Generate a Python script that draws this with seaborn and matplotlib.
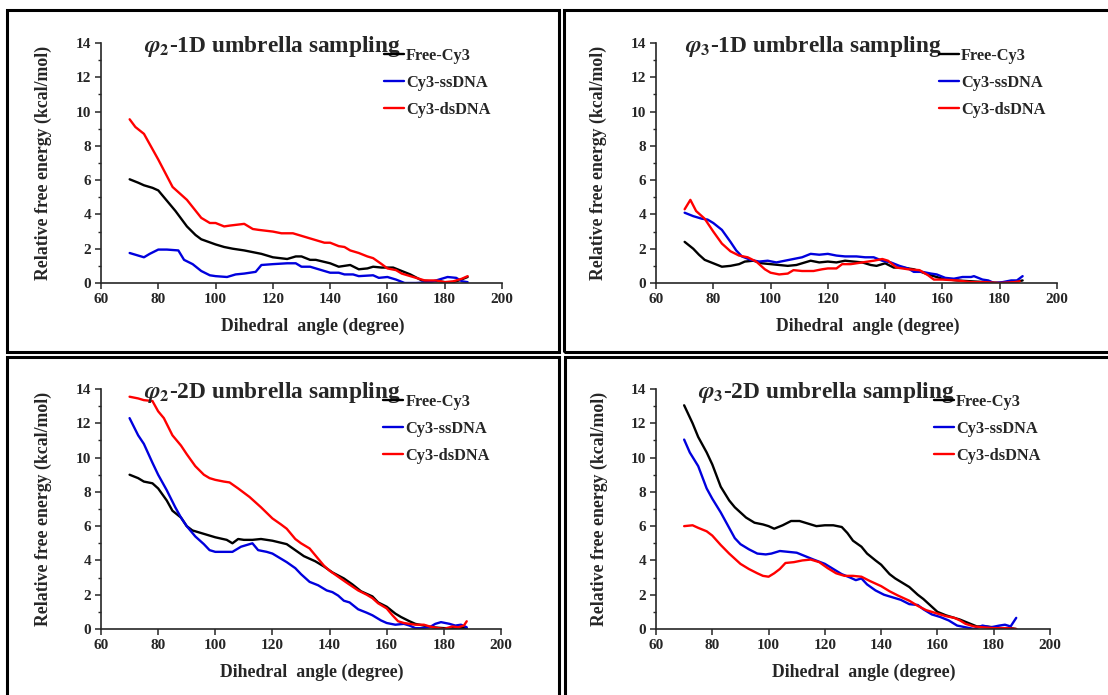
import numpy as np
import pandas as pd
import seaborn as sns
import matplotlib
matplotlib.use("Agg")
import matplotlib.pyplot as plt
from matplotlib.patches import Rectangle
from matplotlib.ticker import MultipleLocator

# ---------------- data ----------------
series_names = ["Free-Cy3", "Cy3-ssDNA", "Cy3-dsDNA"]
x_ticks = [60, 80, 100, 120, 140, 160, 180, 200]
y_ticks = [0, 2, 4, 6, 8, 10, 12, 14]

# phi2 - 1D umbrella sampling
p21_free_x = [70, 73, 75, 78, 80, 83, 86, 90, 93, 95, 100, 103, 106, 110, 113, 116, 120, 125, 128, 130, 133, 135, 140, 143, 145, 147, 150, 153, 155, 158, 162, 165, 168, 172, 175, 178, 182, 185, 188]
p21_free_y = [6.05, 5.85, 5.7, 5.55, 5.4, 4.8, 4.2, 3.3, 2.8, 2.55, 2.25, 2.1, 2.0, 1.9, 1.8, 1.7, 1.5, 1.4, 1.55, 1.55, 1.35, 1.35, 1.15, 0.95, 1.0, 1.05, 0.8, 0.85, 0.95, 0.9, 0.9, 0.7, 0.5, 0.15, 0.1, 0.1, 0.0, 0.15, 0.35]
p21_ss_x = [70, 73, 75, 77, 80, 83, 87, 89, 92, 95, 98, 100, 104, 107, 110, 114, 116, 120, 125, 128, 130, 133, 136, 140, 143, 145, 148, 150, 155, 157, 160, 163, 166, 170, 175, 178, 181, 184, 186, 188]
p21_ss_y = [1.75, 1.6, 1.5, 1.7, 1.95, 1.95, 1.9, 1.35, 1.1, 0.7, 0.45, 0.4, 0.35, 0.5, 0.55, 0.65, 1.05, 1.1, 1.15, 1.15, 0.95, 0.95, 0.8, 0.6, 0.6, 0.5, 0.5, 0.4, 0.45, 0.3, 0.35, 0.2, 0.0, 0.0, 0.05, 0.2, 0.35, 0.3, 0.1, 0.05]
p21_ds_x = [70, 72, 75, 80, 85, 90, 95, 98, 100, 103, 105, 110, 113, 115, 120, 123, 127, 130, 135, 138, 140, 143, 145, 147, 150, 153, 155, 158, 160, 163, 165, 170, 173, 177, 180, 183, 186, 188]
p21_ds_y = [9.55, 9.1, 8.7, 7.2, 5.6, 4.85, 3.8, 3.5, 3.5, 3.3, 3.35, 3.45, 3.15, 3.1, 3.0, 2.9, 2.9, 2.75, 2.5, 2.35, 2.35, 2.15, 2.1, 1.9, 1.75, 1.55, 1.45, 1.1, 0.85, 0.75, 0.55, 0.3, 0.15, 0.15, 0.05, 0.1, 0.25, 0.4]

# phi3 - 1D umbrella sampling
p31_free_x = [70, 73, 75, 77, 80, 83, 86, 89, 91, 94, 97, 100, 103, 106, 109, 112, 114, 117, 120, 123, 126, 129, 132, 135, 137, 140, 143, 146, 150, 155, 160, 165, 170, 175, 180, 185, 188]
p31_free_y = [2.4, 2.0, 1.65, 1.35, 1.15, 0.95, 1.0, 1.1, 1.25, 1.3, 1.15, 1.1, 1.05, 1.0, 1.05, 1.2, 1.3, 1.2, 1.25, 1.2, 1.3, 1.25, 1.2, 1.05, 1.0, 1.15, 0.9, 0.9, 0.8, 0.5, 0.25, 0.15, 0.1, 0.05, 0.0, 0.05, 0.15]
p31_ss_x = [70, 73, 76, 78, 80, 83, 86, 88, 90, 93, 96, 99, 102, 105, 108, 111, 114, 117, 120, 123, 126, 130, 133, 136, 139, 142, 145, 148, 150, 153, 156, 158, 161, 164, 167, 170, 171, 174, 176, 178, 181, 184, 186, 188]
p31_ss_y = [4.1, 3.9, 3.75, 3.7, 3.5, 3.1, 2.4, 1.9, 1.55, 1.35, 1.25, 1.3, 1.2, 1.3, 1.4, 1.5, 1.7, 1.65, 1.7, 1.6, 1.55, 1.55, 1.5, 1.5, 1.3, 1.2, 1.0, 0.85, 0.65, 0.65, 0.55, 0.5, 0.3, 0.25, 0.35, 0.35, 0.4, 0.2, 0.15, 0.0, 0.05, 0.15, 0.15, 0.4]
p31_ds_x = [70, 72, 74, 77, 80, 83, 86, 89, 92, 95, 98, 100, 103, 106, 108, 111, 115, 118, 120, 123, 125, 128, 132, 136, 139, 141, 144, 148, 152, 155, 157, 160, 165, 170, 175, 180, 185, 187]
p31_ds_y = [4.3, 4.85, 4.2, 3.75, 3.0, 2.3, 1.85, 1.6, 1.5, 1.25, 0.8, 0.6, 0.5, 0.55, 0.75, 0.7, 0.7, 0.8, 0.85, 0.85, 1.1, 1.1, 1.2, 1.3, 1.4, 1.3, 0.9, 0.8, 0.75, 0.45, 0.2, 0.2, 0.15, 0.05, 0.05, 0.0, 0.05, 0.1]

# phi2 - 2D umbrella sampling
p22_free_x = [70, 73, 75, 78, 80, 83, 85, 88, 90, 92, 95, 98, 100, 104, 106, 108, 110, 113, 116, 120, 125, 128, 131, 135, 138, 141, 145, 148, 151, 155, 157, 160, 163, 165, 168, 170, 173, 176, 180, 185, 188]
p22_free_y = [9.0, 8.8, 8.6, 8.5, 8.2, 7.5, 6.9, 6.5, 6.0, 5.75, 5.6, 5.45, 5.35, 5.2, 5.0, 5.25, 5.2, 5.2, 5.25, 5.15, 4.95, 4.6, 4.25, 3.95, 3.65, 3.3, 2.95, 2.6, 2.2, 1.9, 1.55, 1.3, 0.9, 0.7, 0.45, 0.3, 0.2, 0.1, 0.05, 0.05, 0.05]
p22_ss_x = [70, 73, 75, 78, 80, 83, 86, 88, 90, 93, 96, 98, 100, 104, 106, 109, 113, 115, 118, 120, 122, 125, 128, 130, 133, 136, 139, 141, 143, 145, 147, 150, 153, 155, 158, 160, 163, 166, 168, 170, 172, 175, 177, 179, 182, 184, 186, 188]
p22_ss_y = [12.3, 11.3, 10.8, 9.7, 9.0, 8.1, 7.1, 6.5, 6.0, 5.4, 4.95, 4.6, 4.5, 4.5, 4.5, 4.8, 5.0, 4.6, 4.5, 4.4, 4.2, 3.9, 3.55, 3.2, 2.75, 2.55, 2.25, 2.15, 1.95, 1.65, 1.55, 1.15, 0.95, 0.8, 0.5, 0.35, 0.25, 0.3, 0.2, 0.05, 0.05, 0.1, 0.3, 0.4, 0.3, 0.2, 0.25, 0.1]
p22_ds_x = [70, 73, 75, 78, 80, 82, 85, 88, 90, 93, 96, 98, 100, 103, 105, 108, 112, 116, 120, 123, 125, 128, 130, 133, 135, 138, 140, 143, 146, 150, 153, 155, 157, 160, 162, 164, 166, 170, 173, 175, 178, 180, 183, 185, 187, 188]
p22_ds_y = [13.55, 13.45, 13.35, 13.3, 12.7, 12.3, 11.3, 10.7, 10.2, 9.5, 9.0, 8.8, 8.7, 8.6, 8.55, 8.2, 7.7, 7.1, 6.45, 6.1, 5.85, 5.25, 5.0, 4.7, 4.3, 3.7, 3.4, 3.05, 2.7, 2.25, 2.0, 1.8, 1.5, 1.2, 0.8, 0.45, 0.35, 0.25, 0.25, 0.15, 0.05, 0.0, 0.15, 0.1, 0.2, 0.45]

# phi3 - 2D umbrella sampling
p32_free_x = [70, 73, 75, 78, 80, 83, 86, 88, 90, 92, 95, 98, 100, 102, 105, 108, 111, 114, 117, 120, 123, 126, 128, 130, 133, 135, 138, 140, 143, 145, 148, 150, 153, 155, 158, 160, 163, 165, 168, 171, 174, 177, 180, 183, 186, 188]
p32_free_y = [13.05, 12.0, 11.2, 10.3, 9.6, 8.3, 7.5, 7.1, 6.8, 6.5, 6.2, 6.1, 6.0, 5.85, 6.05, 6.3, 6.3, 6.15, 6.0, 6.05, 6.05, 5.95, 5.6, 5.15, 4.8, 4.4, 4.0, 3.75, 3.2, 2.95, 2.65, 2.45, 2.0, 1.75, 1.3, 1.0, 0.8, 0.7, 0.55, 0.35, 0.15, 0.15, 0.1, 0.05, 0.05, 0.0]
p32_ss_x = [70, 72, 75, 78, 80, 83, 86, 88, 90, 93, 96, 99, 101, 104, 107, 110, 113, 116, 120, 123, 126, 129, 131, 133, 135, 138, 141, 144, 147, 150, 153, 155, 158, 161, 164, 167, 170, 173, 176, 179, 182, 184, 186, 188]
p32_ss_y = [11.05, 10.3, 9.5, 8.2, 7.6, 6.8, 5.9, 5.3, 4.95, 4.65, 4.4, 4.35, 4.4, 4.55, 4.5, 4.45, 4.25, 4.05, 3.8, 3.5, 3.2, 3.0, 2.85, 2.95, 2.6, 2.25, 2.0, 1.85, 1.7, 1.45, 1.4, 1.15, 0.85, 0.7, 0.5, 0.2, 0.1, 0.0, 0.2, 0.1, 0.2, 0.25, 0.15, 0.65]
p32_ds_x = [70, 73, 75, 78, 80, 83, 86, 90, 93, 96, 98, 100, 102, 104, 106, 109, 112, 115, 118, 121, 124, 127, 130, 133, 136, 140, 143, 146, 150, 153, 156, 160, 163, 166, 168, 170, 173, 176, 180, 185, 188]
p32_ds_y = [6.0, 6.05, 5.9, 5.7, 5.45, 4.9, 4.4, 3.8, 3.5, 3.25, 3.1, 3.05, 3.25, 3.5, 3.85, 3.9, 4.0, 4.05, 3.9, 3.55, 3.25, 3.1, 3.1, 3.05, 2.8, 2.5, 2.2, 1.95, 1.65, 1.35, 1.1, 0.9, 0.75, 0.65, 0.5, 0.3, 0.15, 0.1, 0.05, 0.05, 0.0]

titles = ["$\\varphi_2$-1D umbrella sampling", "$\\varphi_3$-1D umbrella sampling",
          "$\\varphi_2$-2D umbrella sampling", "$\\varphi_3$-2D umbrella sampling"]

# ---------------- style ----------------
sns.set_style("ticks")
plt.rcParams["font.family"] = ["Liberation Serif", "DejaVu Serif"]
plt.rcParams["font.weight"] = "bold"
plt.rcParams["axes.labelweight"] = "bold"
plt.rcParams["mathtext.fontset"] = "stix"

palette = {"Free-Cy3": "#000000", "Cy3-ssDNA": "#0000DD", "Cy3-dsDNA": "#FF0000"}

W, H = 1108, 695
fig = plt.figure(figsize=(W / 100, H / 100), dpi=100)


def frac(x0, y0, x1, y1):
    return [x0 / W, 1 - y1 / H, (x1 - x0) / W, (y1 - y0) / H]


# panel frames
for (x0, y0, x1, y1) in [(7, 10, 559, 352), (564, 10, 1116, 352),
                         (7, 357, 559, 702), (565, 357, 1116, 702)]:
    fig.patches.append(Rectangle((x0 / W, 1 - y1 / H), (x1 - x0) / W, (y1 - y0) / H,
                                 transform=fig.transFigure, fill=False,
                                 edgecolor="black", linewidth=2.2, zorder=0))

axes_boxes = [(101, 43, 502, 283), (656, 43, 1057, 283),
              (101, 389, 501, 629), (656, 389, 1050, 629)]
title_x = [75.0, 70.0, 75.0, 75.0]

panel_data = [
    [(p21_free_x, p21_free_y), (p21_ss_x, p21_ss_y), (p21_ds_x, p21_ds_y)],
    [(p31_free_x, p31_free_y), (p31_ss_x, p31_ss_y), (p31_ds_x, p31_ds_y)],
    [(p22_free_x, p22_free_y), (p22_ss_x, p22_ss_y), (p22_ds_x, p22_ds_y)],
    [(p32_free_x, p32_free_y), (p32_ss_x, p32_ss_y), (p32_ds_x, p32_ds_y)],
]

for i, box in enumerate(axes_boxes):
    ax = fig.add_axes(frac(*box))
    frames = []
    for name, (xs, ys) in zip(series_names, panel_data[i]):
        frames.append(pd.DataFrame({"angle": xs, "energy": ys, "series": name}))
    df = pd.concat(frames, ignore_index=True)
    sns.lineplot(data=df, x="angle", y="energy", hue="series", hue_order=series_names,
                 palette=palette, estimator=None, sort=False, linewidth=1.7, ax=ax)
    ax.set_xlim(60, 200)
    ax.set_ylim(0, 14)
    ax.set_xticks(x_ticks)
    ax.set_yticks(y_ticks)
    ax.yaxis.set_minor_locator(MultipleLocator(1))
    ax.tick_params(axis="both", which="major", labelsize=11, length=4, width=1.1,
                   direction="out", pad=3)
    ax.tick_params(axis="y", which="minor", length=2.5, width=1.0, direction="out")
    for lab in ax.get_xticklabels() + ax.get_yticklabels():
        lab.set_fontweight("bold")
    for s in ["top", "right"]:
        ax.spines[s].set_visible(False)
    for s in ["left", "bottom"]:
        ax.spines[s].set_linewidth(1.2)
    ax.set_xlabel("Dihedral  angle (degree)", fontsize=12.8, fontweight="bold")
    ax.xaxis.set_label_coords(0.527, -0.145)
    ax.set_ylabel("Relative free energy (kcal/mol)", fontsize=12.8, fontweight="bold")
    ax.yaxis.set_label_coords(-0.122, 0.5)
    ax.text(title_x[i], 13.45, titles[i], fontsize=16.8, fontweight="bold", ha="left",
            va="baseline")
    handles, labels = ax.get_legend_handles_labels()
    ax.legend(handles, labels, loc="upper left", bbox_to_anchor=(0.705, 0.98),
              frameon=False, handlelength=1.25, handletextpad=0.12,
              labelspacing=0.68, borderpad=0, borderaxespad=0,
              prop={"weight": "bold", "size": 11.8})

fig.savefig("out.png", dpi=100)
